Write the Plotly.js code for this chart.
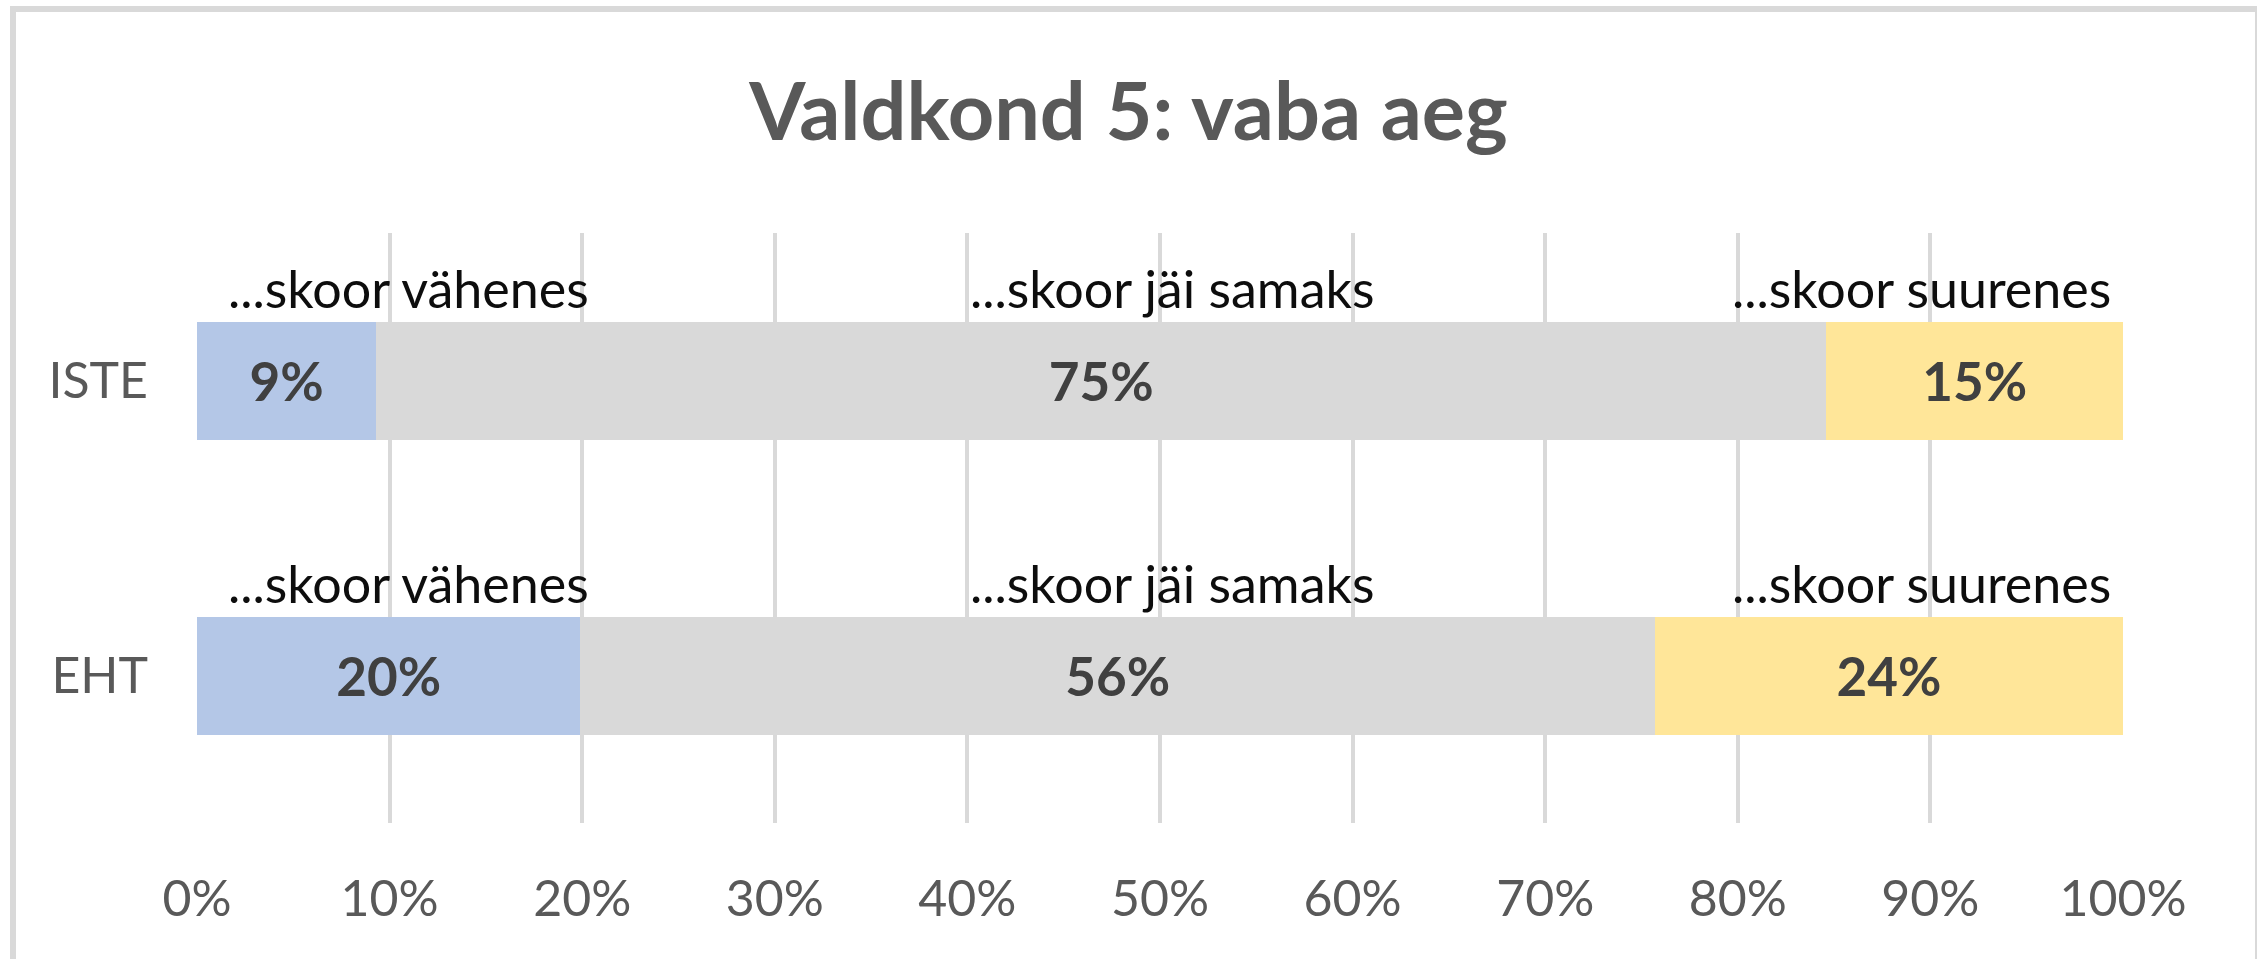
<!DOCTYPE html>
<html>
<head>
<meta charset="utf-8">
<script src="https://cdn.plot.ly/plotly-3.0.1.min.js"></script>
<style>
  html, body { margin: 0; padding: 0; background: #ffffff; }
  #wrap { position: relative; width: 2257px; height: 959px; overflow: hidden; }
  #chart { position: absolute; left: 0; top: 0; width: 2257px; height: 959px; }
  #frame { position: absolute; left: 10px; top: 6px; width: 2239px; height: 1000px;
           border: 6px solid #d9d9d9; border-bottom: none; box-sizing: content-box; pointer-events: none; }
</style>
</head>
<body>
<div id="wrap">
  <div id="chart"></div>
  <div id="frame"></div>
</div>
<script>
// ---- data ----
const categories = ["ISTE", "EHT"];
const seriesNames = ["...skoor vähenes", "...skoor jäi samaks", "...skoor suurenes"];
const decreased = [9.3, 19.9];   // %
const unchanged = [75.3, 55.8];  // %
const increased = [15.4, 24.3];  // %
const tickValues = [0, 10, 20, 30, 40, 50, 60, 70, 80, 90, 100];
const tickLabels = ["0%", "10%", "20%", "30%", "40%", "50%", "60%", "70%", "80%", "90%", "100%"];

// ---- styles ----
const colors = ["#b4c7e7", "#d9d9d9", "#ffe699"];
const FONT = "Lato, 'Open Sans', sans-serif";
const seriesValues = [decreased, unchanged, increased];

const traces = seriesValues.map((vals, i) => ({
  type: "bar",
  orientation: "h",
  name: seriesNames[i],
  y: categories,
  x: vals,
  marker: { color: colors[i], line: { width: 0 } },
  texttemplate: "%{x:.0f}%",
  textposition: "inside",
  insidetextanchor: "middle",
  constraintext: "none",
  textfont: { family: FONT, size: 53, color: "#404040", weight: "bold" },
  hoverinfo: "skip"
}));

// series name labels above each bar segment
const labelAnn = [];
const placement = [
  { x: 1.5, xanchor: "left" },
  { x: 50.6, xanchor: "center" },
  { x: 99.5, xanchor: "right" }
];
categories.forEach((c, ci) => {
  seriesNames.forEach((n, si) => {
    labelAnn.push({
      xref: "x", yref: "y",
      x: placement[si].x, y: c,
      xanchor: placement[si].xanchor, yanchor: "bottom",
      yshift: 60,
      text: n, showarrow: false,
      font: { family: FONT, size: 52, color: "#0d0d0d" }
    });
  });
});

const layout = {
  width: 2257, height: 959,
  margin: { l: 197, r: 134, t: 233, b: 136 },
  paper_bgcolor: "#ffffff",
  plot_bgcolor: "#ffffff",
  barmode: "stack",
  bargap: 0.6,
  showlegend: false,
  title: {
    text: "Valdkond 5: vaba aeg",
    font: { family: FONT, size: 81, color: "#595959", weight: "bold" },
    x: 0.5, xanchor: "center",
    xref: "container",
    y: 1 - 112 / 959, yref: "container", yanchor: "middle"
  },
  xaxis: {
    range: [0, 100],
    tickvals: tickValues,
    ticktext: tickLabels,
    showgrid: true, gridcolor: "#d9d9d9", gridwidth: 4,
    zeroline: false, showline: false, ticks: "",
    ticklabelstandoff: 42,
    tickfont: { family: FONT, size: 50, color: "#595959" },
    fixedrange: true
  },
  yaxis: {
    type: "category",
    categoryorder: "array",
    categoryarray: ["EHT", "ISTE"],
    range: [-0.5, 1.5],
    showgrid: false, zeroline: false, showline: false, ticks: "",
    ticklabelstandoff: 48,
    tickfont: { family: FONT, size: 50, color: "#595959" },
    fixedrange: true
  },
  annotations: labelAnn
};

Plotly.newPlot("chart", traces, layout, { displayModeBar: false, staticPlot: true });
</script>
</body>
</html>
